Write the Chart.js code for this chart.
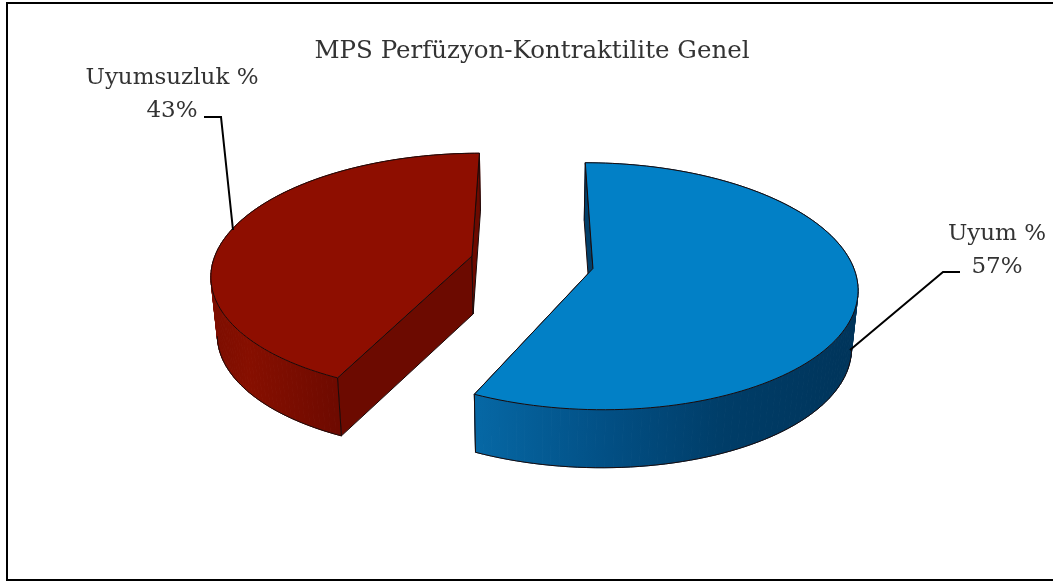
<!DOCTYPE html>
<html lang="tr">

<head>
    <meta charset="UTF-8">
    <title>MPS Perfüzyon-Kontraktilite Genel</title>
    <script src="https://cdn.jsdelivr.net/npm/chart.js"></script>
    <style>
        html, body { margin: 0; height: 100%; background: #fff; overflow: hidden; }
        #frame { position: absolute; left: 6px; top: 2px; width: 1060px; height: 575px; border: 2px solid #000; }
        #wrap { position: absolute; left: 0; top: 0; width: 1053px; height: 581px; }
    </style>
</head>

<body>
    <div id="frame"></div>
    <div id="wrap"><canvas id="grafik" width="1053" height="581"></canvas></div>

    <script>
        var baslik = "MPS Perfüzyon-Kontraktilite Genel";
        var kategoriler = ["Uyum %", "Uyumsuzluk %"];
        var degerler = [57, 43];

        var ustRenkler = ["#0280c6", "#8e0e00"];
        var yuzRenkler = ["#013f69", "#6c0a00"];
        var duvarRenkler = [
            [[0, "#0668a5"], [0.35, "#024f84"], [0.65, "#003d68"], [1, "#00345a"]],
            [[0, "#7c0d00"], [0.3, "#860f00"], [1, "#6e0a00"]]
        ];
        var yaziFontu = "23px 'DejaVu Serif'";
        var yaziRengi = "#333333";

        // label text spot and leader line for each slice
        var etiketKonum = [
            { x: 997, y: 240, cizgi: [[960, 272], [943, 272], [850, 350]] },
            { x: 172, y: 84, cizgi: [[204, 117], [221, 117], [233, 230]] }
        ];

        var KAMERA = 7;      // camera distance, in radii
        var EGIM = 0.46;     // vertical squash of the pie plane
        var KALINLIK = 58;   // wall height in px
        var ALT_OLCEK = 0.98; // lower rim pulls in towards the centre

        function nokta(arc, aci, r, alt) {
            var orta = (arc.startAngle + arc.endAngle) / 2;
            var kayma = arc.options.offset / 4;
            var X = Math.cos(orta) * kayma + r * Math.cos(aci);
            var Y = Math.sin(orta) * kayma + r * Math.sin(aci);
            var s = KAMERA * arc.outerRadius / (KAMERA * arc.outerRadius - Y);
            var px = X * s;
            var py = arc.y + Y * s * EGIM;
            if (alt) {
                px = px * ALT_OLCEK;
                py = py + KALINLIK;
            }
            return [arc.x + px, py];
        }

        function yay(arc, alt) {
            var liste = [];
            var adim = 120;
            for (var i = 0; i <= adim; i++) {
                var aci = arc.startAngle + (arc.endAngle - arc.startAngle) * i / adim;
                liste.push(nokta(arc, aci, arc.outerRadius, alt));
            }
            return liste;
        }

        function yolAc(ctx, liste) {
            ctx.beginPath();
            ctx.moveTo(liste[0][0], liste[0][1]);
            for (var i = 1; i < liste.length; i++) {
                ctx.lineTo(liste[i][0], liste[i][1]);
            }
        }

        function yol(ctx, liste, renk) {
            yolAc(ctx, liste);
            ctx.closePath();
            ctx.fillStyle = renk;
            ctx.fill();
            ctx.lineWidth = 1;
            ctx.strokeStyle = "#1a0a0a";
            ctx.lineJoin = "round";
            ctx.stroke();
        }

        function dilimCiz(ctx, arc, i) {
            var ust = yay(arc, false);
            var alt = yay(arc, true);
            var son = ust.length - 1;
            var merkezUst = nokta(arc, 0, 0, false);
            var merkezAlt = nokta(arc, 0, 0, true);
            var on = ust[0][1] > ust[son][1] ? 0 : son;
            var arka = on === 0 ? son : 0;

            // cut face at the near end goes under the wall
            yol(ctx, [merkezUst, ust[on], alt[on], merkezAlt], yuzRenkler[i]);

            // curved outer wall, shaded from left to right, one strip per step
            var gorunen = ust.filter(function (p) { return p[1] > merkezUst[1] - 5; }).map(function (p) { return p[0]; });
            var gradyan = ctx.createLinearGradient(Math.min.apply(null, gorunen), 0, Math.max.apply(null, gorunen), 0);
            duvarRenkler[i].forEach(function (d) { gradyan.addColorStop(d[0], d[1]); });
            ctx.fillStyle = gradyan;
            ctx.strokeStyle = gradyan;
            ctx.lineWidth = 1;
            for (var k = 0; k < son; k++) {
                yolAc(ctx, [ust[k], ust[k + 1], alt[k + 1], alt[k]]);
                ctx.closePath();
                ctx.fill();
                ctx.stroke();
            }

            // lower rim: only the stretch in front of its widest point
            var enUc = alt[0];
            alt.forEach(function (p) {
                if (Math.abs(p[0] - arc.x) > Math.abs(enUc[0] - arc.x)) { enUc = p; }
            });
            var onKisim = alt.filter(function (p) { return p[1] >= enUc[1]; });
            ctx.strokeStyle = "#1a0a0a";
            yolAc(ctx, onKisim);
            ctx.stroke();

            // upright edge at the near end of the wall
            yolAc(ctx, [ust[on], alt[on]]);
            ctx.stroke();

            // cut face at the far end sits over the back of the wall
            yol(ctx, [merkezUst, ust[arka], alt[arka], merkezAlt], yuzRenkler[i]);

            // top surface
            yol(ctx, [merkezUst].concat(ust), ustRenkler[i]);
        }

        var pastaCizimi = {
            id: "pastaCizimi",
            beforeDatasetsDraw: function (chart) {
                var ctx = chart.ctx;
                var arclar = chart.getDatasetMeta(0).data;
                ctx.save();
                // the far slice goes first
                dilimCiz(ctx, arclar[1], 1);
                dilimCiz(ctx, arclar[0], 0);
                ctx.restore();
                return false;
            },
            afterDraw: function (chart) {
                var ctx = chart.ctx;
                ctx.save();
                ctx.font = yaziFontu;
                ctx.fillStyle = yaziRengi;
                ctx.textAlign = "center";
                kategoriler.forEach(function (ad, i) {
                    var k = etiketKonum[i];
                    ctx.fillText(ad, k.x, k.y);
                    ctx.fillText(degerler[i] + "%", k.x, k.y + 33);
                    ctx.beginPath();
                    ctx.moveTo(k.cizgi[0][0], k.cizgi[0][1]);
                    ctx.lineTo(k.cizgi[1][0], k.cizgi[1][1]);
                    ctx.lineTo(k.cizgi[2][0], k.cizgi[2][1]);
                    ctx.lineWidth = 2;
                    ctx.strokeStyle = "#000";
                    ctx.stroke();
                });
                ctx.restore();
            }
        };

        new Chart(document.getElementById("grafik"), {
            type: "pie",
            plugins: [pastaCizimi],
            data: {
                labels: kategoriler,
                datasets: [{
                    data: degerler,
                    backgroundColor: ustRenkler,
                    offset: 248,
                    radius: 259,
                    borderWidth: 0
                }]
            },
            options: {
                responsive: false,
                animation: false,
                layout: { padding: { left: 11, right: 0, top: 0, bottom: 123 } },
                plugins: {
                    legend: { display: false },
                    tooltip: { enabled: false },
                    title: {
                        display: true,
                        text: baslik,
                        color: yaziRengi,
                        font: { family: "'DejaVu Serif'", size: 24.5, weight: "normal" },
                        padding: { top: 37, bottom: 0 }
                    }
                }
            }
        });
    </script>
</body>

</html>
